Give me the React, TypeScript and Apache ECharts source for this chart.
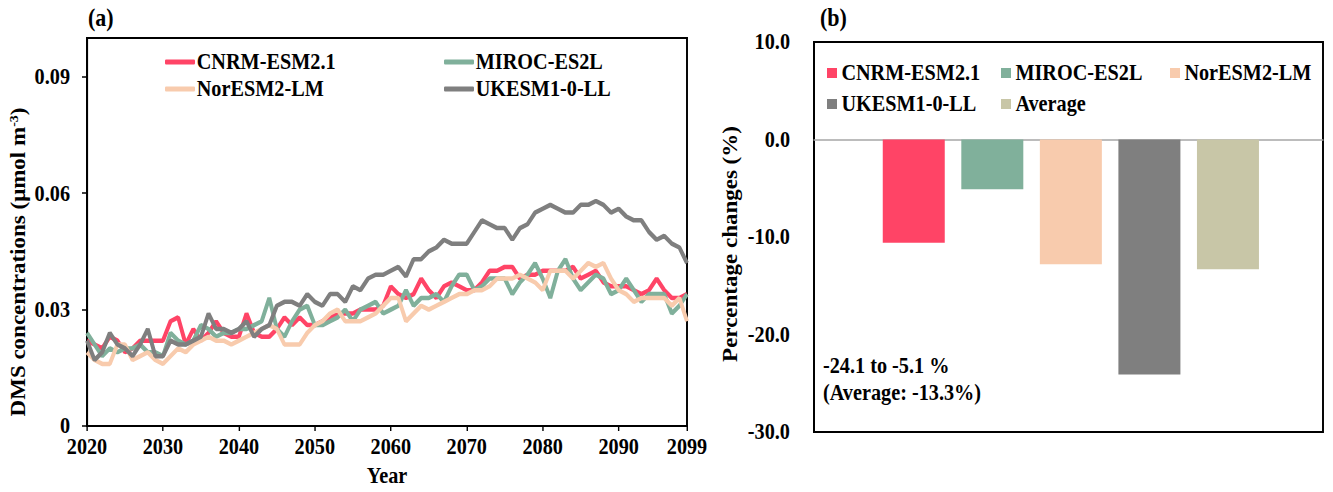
import React, { useEffect, useRef } from "react";
import * as echarts from "echarts";

const years: number[] = Array.from({ length: 80 }, (_, i) => 2020 + i);

const cnrm = [
  0.022, 0.021, 0.020, 0.023, 0.022, 0.019, 0.020, 0.022, 0.022, 0.022,
  0.022, 0.027, 0.028, 0.021, 0.025, 0.022, 0.024, 0.027, 0.024, 0.023,
  0.023, 0.029, 0.024, 0.023, 0.023, 0.025, 0.028, 0.026, 0.028, 0.026,
  0.026, 0.027, 0.028, 0.029, 0.029, 0.029, 0.030, 0.030, 0.030, 0.031,
  0.036, 0.034, 0.033, 0.034, 0.038, 0.035, 0.033, 0.036, 0.037, 0.036,
  0.035, 0.035, 0.037, 0.040, 0.040, 0.041, 0.041, 0.038, 0.039, 0.039,
  0.040, 0.040, 0.040, 0.040, 0.041, 0.038, 0.039, 0.040, 0.037, 0.036,
  0.036, 0.036, 0.035, 0.034, 0.035, 0.038, 0.035, 0.033, 0.033, 0.034,
];

const miroc = [
  0.024, 0.021, 0.018, 0.020, 0.019, 0.020, 0.020, 0.021, 0.019, 0.019,
  0.018, 0.024, 0.022, 0.021, 0.022, 0.026, 0.025, 0.023, 0.024, 0.024,
  0.025, 0.025, 0.026, 0.027, 0.033, 0.025, 0.023, 0.027, 0.030, 0.031,
  0.026, 0.026, 0.027, 0.028, 0.030, 0.027, 0.030, 0.031, 0.032, 0.029,
  0.030, 0.031, 0.035, 0.031, 0.033, 0.033, 0.034, 0.032, 0.036, 0.039,
  0.039, 0.035, 0.036, 0.038, 0.038, 0.038, 0.034, 0.037, 0.039, 0.042,
  0.038, 0.033, 0.040, 0.043, 0.038, 0.035, 0.037, 0.039, 0.038, 0.034,
  0.035, 0.038, 0.035, 0.032, 0.034, 0.034, 0.034, 0.029, 0.031, 0.034,
];

const noresm = [
  0.019, 0.017, 0.016, 0.016, 0.021, 0.021, 0.017, 0.018, 0.019, 0.017,
  0.016, 0.018, 0.020, 0.019, 0.021, 0.022, 0.023, 0.022, 0.022, 0.021,
  0.022, 0.023, 0.024, 0.025, 0.026, 0.025, 0.021, 0.021, 0.021, 0.024,
  0.026, 0.027, 0.029, 0.030, 0.027, 0.027, 0.027, 0.028, 0.029, 0.031,
  0.033, 0.033, 0.027, 0.029, 0.031, 0.030, 0.031, 0.032, 0.033, 0.034,
  0.034, 0.035, 0.035, 0.036, 0.038, 0.038, 0.038, 0.039, 0.038, 0.037,
  0.035, 0.040, 0.040, 0.040, 0.038, 0.040, 0.042, 0.041, 0.042, 0.038,
  0.035, 0.034, 0.032, 0.033, 0.033, 0.033, 0.033, 0.031, 0.033, 0.027,
];

const ukesm = [
  0.022, 0.017, 0.019, 0.024, 0.021, 0.020, 0.018, 0.021, 0.025, 0.018,
  0.018, 0.022, 0.021, 0.021, 0.022, 0.023, 0.029, 0.025, 0.025, 0.024,
  0.025, 0.027, 0.023, 0.025, 0.026, 0.031, 0.032, 0.032, 0.031, 0.034,
  0.032, 0.031, 0.034, 0.034, 0.032, 0.036, 0.035, 0.038, 0.039, 0.039,
  0.040, 0.041, 0.0385, 0.043, 0.043, 0.045, 0.046, 0.048, 0.047, 0.047,
  0.047, 0.050, 0.053, 0.052, 0.051, 0.051, 0.048, 0.051, 0.052, 0.055,
  0.056, 0.057, 0.056, 0.055, 0.055, 0.057, 0.057, 0.058, 0.057, 0.055,
  0.056, 0.054, 0.053, 0.053, 0.050, 0.048, 0.049, 0.047, 0.046, 0.042,
];

const lineNames = ["CNRM-ESM2.1", "MIROC-ES2L", "NorESM2-LM", "UKESM1-0-LL"];
const lineData = [cnrm, miroc, noresm, ukesm];
const lineColors = ["#FF4466", "#80B09B", "#F8CBAD", "#7F7F7F"];

const barNames = ["CNRM-ESM2.1", "MIROC-ES2L", "NorESM2-LM", "UKESM1-0-LL", "Average"];
const barValues = [-10.6, -5.1, -12.8, -24.1, -13.3];
const barColors = ["#FF4466", "#80B09B", "#F8CBAD", "#7F7F7F", "#C8C6A7"];

const xTicksA = [2020, 2030, 2040, 2050, 2060, 2070, 2080, 2090, 2099];
const yTicksA = [0, 0.03, 0.06, 0.09];

const FONT = "'Liberation Serif', 'Times New Roman', serif";
// The reference figure is horizontally condensed; the chart is drawn wider and squeezed.
const SX = 0.88;
const PAGE_W = 1333;
const PAGE_H = 492;
const INNER_W = Math.round(PAGE_W / SX);
const ux = (x: number) => x / SX;

export default function App() {
  const ref = useRef<HTMLDivElement>(null);

  useEffect(() => {
    if (!ref.current) return;
    const chart = echarts.init(ref.current, undefined, { renderer: "svg" });

    const FS = 23;
    const textBase = { fontFamily: FONT, fontWeight: "bold" as const, color: "#000", fontSize: FS };

    const legendsA = lineNames.map((n, i) => ({
      data: [n],
      left: ux(i % 2 === 0 ? 165 : 444),
      top: i < 2 ? 50.5 : 77.5,
      padding: 0,
      icon: "roundRect",
      itemWidth: ux(30),
      itemHeight: 5,
      selectedMode: false,
      itemStyle: { color: lineColors[i], borderWidth: 0 },
      textStyle: { ...textBase, padding: [0, 0, 0, -3] },
    }));

    const legendPosB = [
      [827, 61.5],
      [1001, 61.5],
      [1170, 61.5],
      [827, 92.5],
      [1001, 92.5],
    ];
    const legendsB = barNames.map((n, i) => ({
      data: [n],
      left: ux(legendPosB[i][0]),
      top: legendPosB[i][1],
      padding: 0,
      icon: "rect",
      itemWidth: ux(10),
      itemHeight: 10,
      selectedMode: false,
      itemStyle: { color: barColors[i], borderWidth: 0 },
      textStyle: { ...textBase },
    }));

    const option: any = {
      animation: false,
      backgroundColor: "#fff",
      textStyle: { fontFamily: FONT },
      grid: [
        { left: ux(87), top: 38, width: ux(687) - ux(87), height: 390, show: true, borderColor: "#000", borderWidth: 2.2, containLabel: false },
        { left: ux(814), top: 42, width: ux(1323) - ux(814), height: 390, show: true, borderColor: "#000", borderWidth: 2.2, containLabel: false },
      ],
      legend: [...legendsA, ...legendsB],
      xAxis: [
        {
          type: "value",
          gridIndex: 0,
          min: 2020,
          max: 2099,
          name: "Year",
          nameLocation: "middle",
          nameGap: 38,
          nameTextStyle: { ...textBase },
          axisLine: { show: true, onZero: false, lineStyle: { color: "#000", width: 2 } },
          axisTick: { show: true, customValues: xTicksA, length: 5, lineStyle: { color: "#000", width: 1.6 } },
          axisLabel: { ...textBase, customValues: xTicksA, margin: 9, formatter: (v: number) => String(v) },
          splitLine: { show: false },
        },
        {
          type: "value",
          gridIndex: 1,
          min: -1.27,
          max: 5.21,
          axisLine: { show: true, onZero: true, lineStyle: { color: "#A6A6A6", width: 1.5 } },
          axisTick: { show: false },
          axisLabel: { show: false },
          splitLine: { show: false },
        },
      ],
      yAxis: [
        {
          type: "value",
          gridIndex: 0,
          min: 0,
          max: 0.1,
          axisLine: { show: true, onZero: false, lineStyle: { color: "#000", width: 2.2 } },
          axisTick: { show: true, customValues: yTicksA, length: ux(5), lineStyle: { color: "#000", width: 1.5 } },
          axisLabel: {
            ...textBase,
            customValues: yTicksA,
            margin: ux(17),
            formatter: (v: number) => (v === 0 ? "0" : v.toFixed(2)),
          },
          splitLine: { show: false },
        },
        {
          type: "value",
          gridIndex: 1,
          min: -30,
          max: 10,
          interval: 10,
          axisLine: { show: true, onZero: false, lineStyle: { color: "#000", width: 2.2 } },
          axisTick: { show: false },
          axisLabel: { ...textBase, margin: ux(24), formatter: (v: number) => v.toFixed(1) },
          splitLine: { show: false },
        },
      ],
      series: [
        ...lineNames.map((n, i) => ({
          name: n,
          type: "line",
          xAxisIndex: 0,
          yAxisIndex: 0,
          showSymbol: false,
          symbol: "none",
          data: years.map((y, k) => [y, lineData[i][k]]),
          itemStyle: { color: lineColors[i] },
          lineStyle: { color: lineColors[i], width: 4.5 },
          z: 2 + i,
        })),
        ...barNames.map((n, i) => ({
          name: n,
          type: "bar",
          xAxisIndex: 1,
          yAxisIndex: 1,
          barWidth: ux(62),
          barGap: "-100%",
          data: [[i, barValues[i]]],
          itemStyle: { color: barColors[i] },
        })),
      ],
      graphic: [
        { type: "text", left: ux(88), top: 5, style: { text: "(a)", font: `bold 25px ${FONT}`, fill: "#000" } },
        { type: "text", left: ux(820), top: 5, style: { text: "(b)", font: `bold 25px ${FONT}`, fill: "#000" } },
        {
          type: "text",
          x: ux(18),
          y: 262,
          rotation: Math.PI / 2,
          style: {
            text: "{a|DMS concentrations (μmol m}{s|-3}{a|)}",
            align: "center",
            verticalAlign: "middle",
            rich: {
              a: { fontFamily: FONT, fontWeight: "bold", fontSize: FS, lineHeight: 26, fill: "#000" },
              s: { fontFamily: FONT, fontWeight: "bold", fontSize: 14, lineHeight: 26, fill: "#000", padding: [0, 0, 10, 0] },
            },
          },
        },
        {
          type: "text",
          x: ux(730),
          y: 244,
          rotation: Math.PI / 2,
          style: {
            text: "Percentage changes (%)",
            align: "center",
            verticalAlign: "middle",
            font: `bold ${FS}px ${FONT}`,
            fill: "#000",
          },
        },
        {
          type: "text",
          left: ux(823),
          top: 352,
          style: { text: "-24.1 to -5.1 %\n(Average: -13.3%)", font: `bold ${FS}px ${FONT}`, lineHeight: 27, fill: "#000" },
        },
      ],
    };

    chart.setOption(option);
    return () => chart.dispose();
  }, []);

  return (
    <div style={{ position: "fixed", left: 0, top: 0, width: PAGE_W, height: PAGE_H, overflow: "hidden", background: "#fff" }}>
      <div
        ref={ref}
        style={{
          width: INNER_W,
          height: PAGE_H,
          transform: `scaleX(${SX})`,
          transformOrigin: "0 0",
        }}
      />
    </div>
  );
}
